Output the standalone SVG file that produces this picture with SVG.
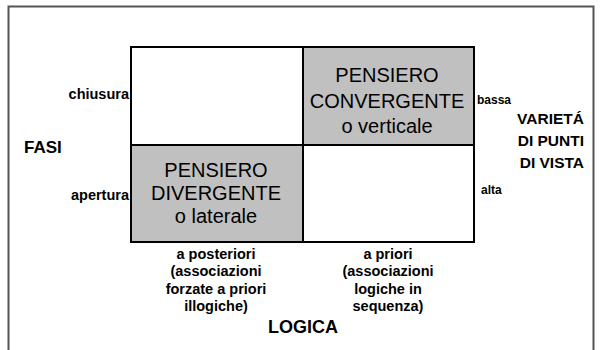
<svg xmlns="http://www.w3.org/2000/svg" width="600" height="350" viewBox="0 0 600 350">
<style>
text{font-family:"Liberation Sans",Arial,sans-serif;fill:#000}
.l{font-size:14.5px;font-weight:bold;text-anchor:end}
.r{font-size:12px;font-weight:bold}
.h{font-size:15.5px;font-weight:bold;text-anchor:end}
.m{font-size:20px;text-anchor:middle}
.c{font-size:14.5px;font-weight:bold;text-anchor:middle}
.cell{stroke:#000;stroke-width:2}
</style>
<rect width="600" height="350" fill="#fff"/>
<g id="frame"><path d="M8.5 360V6.5H593.5V360" fill="none" stroke="#555" stroke-width="2"/></g>
<g id="grid">
<g id="cell-tl"><rect class="cell" x="131" y="47" width="172" height="98" fill="#fff"/></g>
<g id="cell-tr"><rect class="cell" x="303" y="47" width="171" height="98" fill="#c0c0c0"/>
<text class="m" x="387" y="82">PENSIERO</text>
<text class="m" x="387" y="108">CONVERGENTE</text>
<text class="m" x="387" y="133">o verticale</text></g>
<g id="cell-bl"><rect class="cell" x="131" y="145" width="172" height="97" fill="#c0c0c0"/>
<text class="m" x="216" y="177">PENSIERO</text>
<text class="m" x="216" y="200">DIVERGENTE</text>
<text class="m" x="216" y="223">o laterale</text></g>
<g id="cell-br"><rect class="cell" x="303" y="145" width="171" height="97" fill="#fff"/></g>
</g>
<g id="connectors"></g>
<g id="labels">
<text class="l" x="129" y="99">chiusura</text>
<text class="l" x="129" y="200">apertura</text>
<text x="24" y="153" style="font-size:17px;font-weight:bold">FASI</text>
<text class="r" x="477" y="104">bassa</text>
<text class="r" x="481" y="194">alta</text>
<text class="h" x="584" y="124">VARIETÁ</text>
<text class="h" x="584" y="146">DI PUNTI</text>
<text class="h" x="584" y="168">DI VISTA</text>
<text class="c" x="216" y="259">a posteriori</text>
<text class="c" x="216" y="276">(associazioni</text>
<text class="c" x="216" y="294">forzate a priori</text>
<text class="c" x="216" y="311">illogiche)</text>
<text class="c" x="388" y="259">a priori</text>
<text class="c" x="388" y="276">(associazioni</text>
<text class="c" x="388" y="294">logiche in</text>
<text class="c" x="388" y="311">sequenza)</text>
<text x="303" y="333" text-anchor="middle" style="font-size:18px;font-weight:bold">LOGICA</text>
</g>
</svg>
